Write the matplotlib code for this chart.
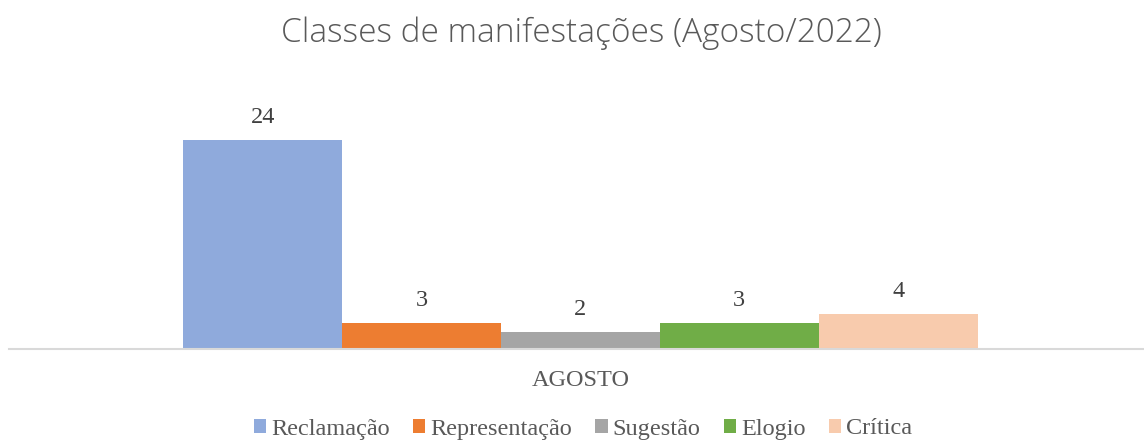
import numpy as np
import matplotlib.pyplot as plt

plt.rcParams["font.family"] = "Liberation Serif"

categories = ["Reclamação", "Representação", "Sugestão", "Elogio", "Crítica"]
values = [24, 3, 2, 3, 4]
colors = ["#8faadc", "#ed7d31", "#a5a5a5", "#70ad47", "#f8cbad"]
group_label = "AGOSTO"

fig = plt.figure(figsize=(11.44, 4.41), dpi=100)
ax = fig.add_axes([9/1144, 1 - 349/441, 1135/1144, 250/441])

width = 0.14
offsets = (np.arange(len(values)) - (len(values) - 1) / 2) * width + 0.0035
for i in range(len(values)):
    ax.bar(offsets[i], values[i], width, color=colors[i], label=categories[i])
    ax.text(offsets[i], values[i] + 1.35, str(values[i]), ha='center', va='bottom',
            fontsize=17.5, color='#404040')

ax.set_xlim(-0.5, 0.5)
ax.set_ylim(0, 250/8.7)
ax.set_yticks([])
ax.set_xticks([0.0035])
ax.set_xticklabels([group_label], fontsize=17.5, color='#595959')
ax.tick_params(axis='x', length=0, pad=15)
for s in ['top', 'right', 'left']:
    ax.spines[s].set_visible(False)
ax.spines['bottom'].set_color('#d9d9d9')
ax.spines['bottom'].set_linewidth(1.5)

fig.text(0.508, 1 - 33/441, "Classes de manifestações (Agosto/2022)", ha='center', va='center',
         fontsize=24, color='#595959', family='Open Sans', fontweight='light')

ax.legend(loc='center', bbox_to_anchor=(583/1144, 1 - 429/441), bbox_transform=fig.transFigure,
          ncol=5, frameon=False, fontsize=17.5, labelcolor='#595959',
          handlelength=0.5, handleheight=0.5, handletextpad=0.2, columnspacing=0.97)

fig.savefig('out.png', dpi=100)
